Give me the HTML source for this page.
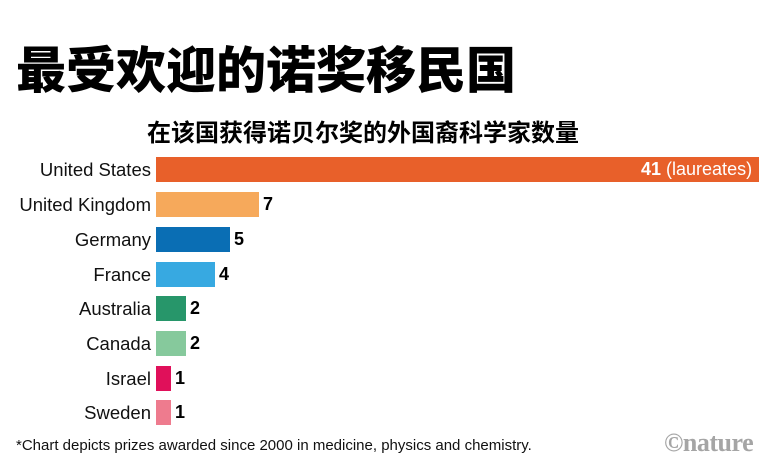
<!DOCTYPE html>
<html><head><meta charset="utf-8"><style>
body{margin:0;width:777px;height:472px;background:#fff;position:relative;overflow:hidden;font-family:"Liberation Sans","Noto Sans CJK SC",sans-serif;color:#000}
.a{position:absolute;white-space:nowrap}
.l{position:absolute;right:626px;font-size:18.5px;line-height:25px;color:#111}
.b{position:absolute;left:156px;height:25px}
.v{position:absolute;font-size:18px;font-weight:bold;line-height:25px}
</style></head><body>
<div class="a" style="left:16px;top:40px;font-size:50px;font-weight:900;line-height:62px;">最受欢迎的诺奖移民国</div>
<div class="a" style="left:147px;top:118px;font-size:24px;font-weight:bold;line-height:32px;">在该国获得诺贝尔奖的外国裔科学家数量</div>

<div class="l" style="top:157px">United States</div>
<div class="b" style="top:157px;width:603px;background:#e8602a"></div>
<div class="v" style="top:157px;left:641px;color:#fff">41 <span style="font-weight:normal">(laureates)</span></div>

<div class="l" style="top:192px">United Kingdom</div>
<div class="b" style="top:192px;width:103px;background:#f6a95b"></div>
<div class="v" style="top:192px;left:263px">7</div>

<div class="l" style="top:227px">Germany</div>
<div class="b" style="top:227px;width:74px;background:#0a6eb4"></div>
<div class="v" style="top:227px;left:234px">5</div>

<div class="l" style="top:262px">France</div>
<div class="b" style="top:262px;width:59px;background:#37a9e1"></div>
<div class="v" style="top:262px;left:219px">4</div>

<div class="l" style="top:296px">Australia</div>
<div class="b" style="top:296px;width:30px;background:#27966a"></div>
<div class="v" style="top:296px;left:190px">2</div>

<div class="l" style="top:331px">Canada</div>
<div class="b" style="top:331px;width:30px;background:#86c99c"></div>
<div class="v" style="top:331px;left:190px">2</div>

<div class="l" style="top:366px">Israel</div>
<div class="b" style="top:366px;width:15px;background:#e0105a"></div>
<div class="v" style="top:366px;left:175px">1</div>

<div class="l" style="top:400px">Sweden</div>
<div class="b" style="top:400px;width:15px;background:#ee7b8e"></div>
<div class="v" style="top:400px;left:175px">1</div>

<div class="a" style="left:16px;top:437px;font-size:15px;line-height:18px;color:#111">*Chart depicts prizes awarded since 2000 in medicine, physics and chemistry.</div>
<div class="a" style="left:664px;top:427px;font-size:26px;font-weight:bold;font-family:'Liberation Serif',serif;color:#a5a5a5;line-height:32px;letter-spacing:-0.5px">©nature</div>
</body></html>
